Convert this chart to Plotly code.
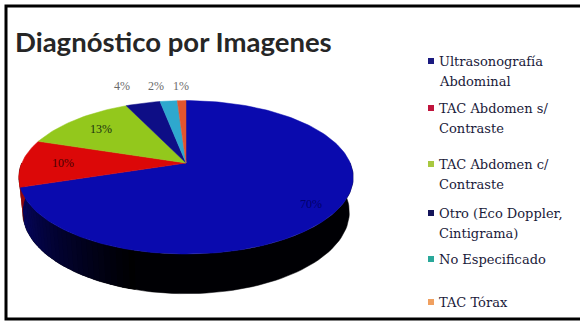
import math
import plotly.graph_objects as go

# Data
categories = [
    "Ultrasonografía Abdominal",
    "TAC Abdomen s/ Contraste",
    "TAC Abdomen c/ Contraste",
    "Otro (Eco Doppler, Cintigrama)",
    "No Especificado",
    "TAC Tórax",
]
legend_lines = [
    ["Ultrasonografía", "Abdominal"],
    ["TAC Abdomen s/", "Contraste"],
    ["TAC Abdomen c/", "Contraste"],
    ["Otro (Eco Doppler,", "Cintigrama)"],
    ["No Especificado"],
    ["TAC Tórax"],
]
percentages = [70, 10, 13, 4, 2, 1]

# Styling
top_colors = ["#0A0AAE", "#DC0808", "#93C81C", "#0E0E86", "#2EA8CE", "#E2552E"]
legend_colors = ["#1A1A80", "#C0143C", "#A8C840", "#14145A", "#2AA89A", "#F0A060"]
label_colors = ["#00006A", "#4A0000", "#1A3210", "#6A6A6A", "#6A6A6A", "#6A6A6A"]

W, H = 580, 326

# Simple perspective camera for a tilted disc
ELEV = math.radians(26.8)
C, S = math.cos(ELEV), math.sin(ELEV)
DIST = 4.78
FOCAL = 785
OX, OY = 186, 163
THICK = 0.24


def proj(theta_deg, r=1.0, yv=0.0):
    t = math.radians(theta_deg)
    X, Z = r * math.sin(t), r * math.cos(t)
    y_up = yv * C + Z * S
    zc = DIST + Z * C - yv * S
    return OX + FOCAL * X / zc, OY - FOCAL * y_up / zc


def hex_rgb(h):
    h = h.lstrip("#")
    return tuple(int(h[i:i + 2], 16) for i in (0, 2, 4))


def shade(h, k):
    r, g, b = hex_rgb(h)
    return f"rgb({int(r * k)},{int(g * k)},{int(b * k)})"


total = sum(percentages)
bounds = [0.0]
for p in percentages:
    bounds.append(bounds[-1] + 360.0 * p / total)

fig = go.Figure()

# Dark base for the whole visible wall (near half of the disc)
xs, ys = [], []
for j in range(91):
    x, y = proj(90 + 2 * j)
    xs.append(x); ys.append(y)
for j in range(91):
    x, y = proj(270 - 2 * j, yv=-THICK)
    xs.append(x); ys.append(y)
fig.add_trace(go.Scatter(x=xs, y=ys, fill="toself", mode="lines",
                         line=dict(width=0.5, color="#000004"), fillcolor="#000004",
                         hoverinfo="skip", showlegend=False))

# Lit strips of the wall, brighter toward the left edge
step = 2.0
for i, (a0, a1) in enumerate(zip(bounds[:-1], bounds[1:])):
    lo, hi = max(a0, 195.0), min(a1, 270.0)
    t = lo
    while t < hi - 1e-9:
        t2 = min(t + step, hi)
        mid = 0.5 * (t + t2)
        k = max(0.0, (mid - 195.0) / 75.0) * 0.75
        xs, ys = [], []
        for ang in (t - 0.3, t2 + 0.3):
            x, y = proj(min(max(ang, lo), hi))
            xs.append(x); ys.append(y)
        for ang in (t2 + 0.3, t - 0.3):
            x, y = proj(min(max(ang, lo), hi), yv=-THICK)
            xs.append(x); ys.append(y)
        col = shade(top_colors[i], k)
        fig.add_trace(go.Scatter(x=xs, y=ys, fill="toself", mode="none",
                                 fillcolor=col, hoverinfo="skip", showlegend=False))
        t = t2

# Top face slices
for i, (a0, a1) in enumerate(zip(bounds[:-1], bounds[1:])):
    n = max(2, int((a1 - a0) / 1.5))
    xs, ys = [OX], [OY]
    for j in range(n + 1):
        x, y = proj(a0 + (a1 - a0) * j / n)
        xs.append(x); ys.append(y)
    xs.append(OX); ys.append(OY)
    fig.add_trace(go.Scatter(x=xs, y=ys, fill="toself", mode="lines",
                             line=dict(width=0.5, color=top_colors[i]),
                             fillcolor=top_colors[i], hoverinfo="skip",
                             name=categories[i], showlegend=False))

annotations = []

# Percentage labels: large slices inside, thin slices above the rim
inside_r = {0: 0.85, 1: 0.75, 2: 0.75}
outside_x = {3: 122, 4: 156, 5: 181}
for i, p in enumerate(percentages):
    mid = 0.5 * (bounds[i] + bounds[i + 1])
    if i in inside_r:
        x, y = proj(mid, r=inside_r[i])
    else:
        x, y = outside_x[i], 86
    annotations.append(dict(x=x, y=y, text=f"{p}%", showarrow=False,
                            font=dict(family="Liberation Serif", size=12,
                                      color=label_colors[i])))

# Title
annotations.append(dict(x=13, y=41, text="<b>Diagnóstico por Imagenes</b>",
                        showarrow=False, xanchor="left", yanchor="middle",
                        font=dict(family="Lato", size=27.5, color="#262626")))

# Legend
legend_y = [61, 108, 164, 213, 259, 302]
for i, lines in enumerate(legend_lines):
    y0 = legend_y[i]
    fig.add_shape(type="rect", x0=428, x1=434, y0=y0 - 3, y1=y0 + 3,
                  fillcolor=legend_colors[i], line=dict(width=0))
    for k, line in enumerate(lines):
        annotations.append(dict(x=437, y=y0 + 20 * k, text=line, showarrow=False,
                                xanchor="left", yanchor="middle",
                                font=dict(family="DejaVu Serif", size=13,
                                          color="#1A1A3A")))

# Outer frame
fig.add_shape(type="rect", x0=6, x1=W + 10, y0=6, y1=319,
              line=dict(color="black", width=3), fillcolor="rgba(0,0,0,0)")

fig.update_layout(
    width=W, height=H,
    margin=dict(l=0, r=0, t=0, b=0),
    paper_bgcolor="white", plot_bgcolor="white",
    xaxis=dict(range=[0, W], visible=False, fixedrange=True),
    yaxis=dict(range=[H, 0], visible=False, fixedrange=True),
    annotations=annotations,
    showlegend=False,
)

fig.write_html("out.html")
